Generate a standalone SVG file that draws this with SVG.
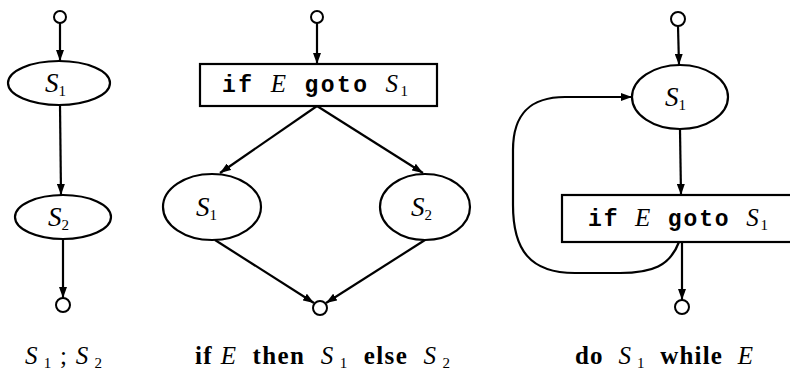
<svg xmlns="http://www.w3.org/2000/svg" width="790" height="373" viewBox="0 0 790 373">
<style>
.ln{fill:none;stroke:#000;stroke-width:2.2}
.nd{fill:#fff;stroke:#000;stroke-width:2.2}
.pt{fill:#fff;stroke:#000;stroke-width:2}
.lb{font-family:"Liberation Serif",serif;font-size:25px;fill:#000;white-space:pre}
.nl{font-family:"Liberation Serif",serif;font-size:27px;fill:#000}
.it{font-style:italic}
.sub{font-size:15px}
.bd{font-weight:bold}
.mono{font-family:"Liberation Mono",monospace;font-weight:bold;font-size:23px;fill:#000;white-space:pre}
.mi{font-family:"Liberation Serif",serif;font-style:italic;font-weight:normal;font-size:25px}
.ms{font-family:"Liberation Serif",serif;font-weight:normal;font-size:15px}
</style>
<defs>
<marker id="ar" markerWidth="11" markerHeight="8" refX="11" refY="4" orient="auto" markerUnits="userSpaceOnUse">
<path d="M0,0 L11,4 L0,8 Z" fill="#000"/>
</marker>
</defs>
<g id="connectors">
<line class="ln" x1="60" y1="23" x2="60" y2="61" marker-end="url(#ar)"/>
<line class="ln" x1="60" y1="105" x2="61" y2="195" marker-end="url(#ar)"/>
<line class="ln" x1="63" y1="239" x2="63" y2="298" marker-end="url(#ar)"/>
<line class="ln" x1="317" y1="23" x2="317" y2="64" marker-end="url(#ar)"/>
<line class="ln" x1="317" y1="106" x2="220" y2="173" marker-end="url(#ar)"/>
<line class="ln" x1="317" y1="106" x2="423" y2="173" marker-end="url(#ar)"/>
<line class="ln" x1="215" y1="240" x2="314" y2="303" marker-end="url(#ar)"/>
<line class="ln" x1="425" y1="240" x2="326" y2="303" marker-end="url(#ar)"/>
<line class="ln" x1="678" y1="26" x2="679" y2="65" marker-end="url(#ar)"/>
<line class="ln" x1="680" y1="130" x2="681" y2="195" marker-end="url(#ar)"/>
<line class="ln" x1="682" y1="242" x2="682" y2="300" marker-end="url(#ar)"/>
<path class="ln" d="M679,242 C670,266 652,273 620,273 L575,273 C530,273 513,250 513,205 L513,150 C513,112 532,97 565,97 L632,97" marker-end="url(#ar)"/>
</g>
<g id="seq-entry"><circle class="pt" cx="60" cy="17" r="6"/></g>
<g id="seq-s1"><ellipse class="nd" cx="59" cy="83" rx="51" ry="22"/>
<text class="nl" x="45" y="92"><tspan class="it">S</tspan><tspan class="sub" dy="4">1</tspan></text></g>
<g id="seq-s2"><ellipse class="nd" cx="63" cy="217" rx="48" ry="22"/>
<text class="nl" x="48" y="226"><tspan class="it">S</tspan><tspan class="sub" dy="4">2</tspan></text></g>
<g id="seq-exit"><circle class="pt" cx="63" cy="305" r="7"/></g>
<g id="seq-label"><text class="lb" x="25" y="364" textLength="77" lengthAdjust="spacing"><tspan class="it">S</tspan><tspan class="sub" dy="4"> 1</tspan><tspan dy="-4"> ; </tspan><tspan class="it">S</tspan><tspan class="sub" dy="4"> 2</tspan></text></g>

<g id="if-entry"><circle class="pt" cx="317" cy="17" r="6"/></g>
<g id="if-test"><rect class="nd" x="200" y="64" width="237" height="42"/>
<text class="mono" x="222" y="92" textLength="186" lengthAdjust="spacing">if <tspan class="mi">E</tspan> goto <tspan class="mi">S</tspan><tspan class="ms" dy="4">1</tspan></text></g>
<g id="if-s1"><ellipse class="nd" cx="212" cy="207" rx="49" ry="33"/>
<text class="nl" x="196" y="216"><tspan class="it">S</tspan><tspan class="sub" dy="4">1</tspan></text></g>
<g id="if-s2"><ellipse class="nd" cx="425" cy="207" rx="45" ry="33"/>
<text class="nl" x="411" y="216"><tspan class="it">S</tspan><tspan class="sub" dy="4">2</tspan></text></g>
<g id="if-exit"><circle class="pt" cx="320" cy="308" r="7"/></g>
<g id="if-label"><text class="lb" x="195" y="364" textLength="255" lengthAdjust="spacing"><tspan class="bd">if</tspan> <tspan class="it">E</tspan>  <tspan class="bd">then</tspan>  <tspan class="it">S</tspan><tspan class="sub" dy="4"> 1</tspan><tspan dy="-4">  </tspan><tspan class="bd">else</tspan>  <tspan class="it">S</tspan><tspan class="sub" dy="4"> 2</tspan></text></g>

<g id="do-entry"><circle class="pt" cx="678" cy="19" r="7"/></g>
<g id="do-s1"><ellipse class="nd" cx="680" cy="97" rx="48" ry="32"/>
<text class="nl" x="665" y="106"><tspan class="it">S</tspan><tspan class="sub" dy="4">1</tspan></text></g>
<g id="do-test"><rect class="nd" x="562" y="195" width="232" height="47"/>
<text class="mono" x="588" y="226" textLength="180" lengthAdjust="spacing">if <tspan class="mi">E</tspan> goto <tspan class="mi">S</tspan><tspan class="ms" dy="4">1</tspan></text></g>
<g id="do-exit"><circle class="pt" cx="682" cy="307" r="7"/></g>
<g id="do-label"><text class="lb" x="575" y="364" textLength="178" lengthAdjust="spacing"><tspan class="bd">do</tspan>  <tspan class="it">S</tspan><tspan class="sub" dy="4"> 1</tspan><tspan dy="-4">  </tspan><tspan class="bd">while</tspan>  <tspan class="it">E</tspan></text></g>
</svg>
